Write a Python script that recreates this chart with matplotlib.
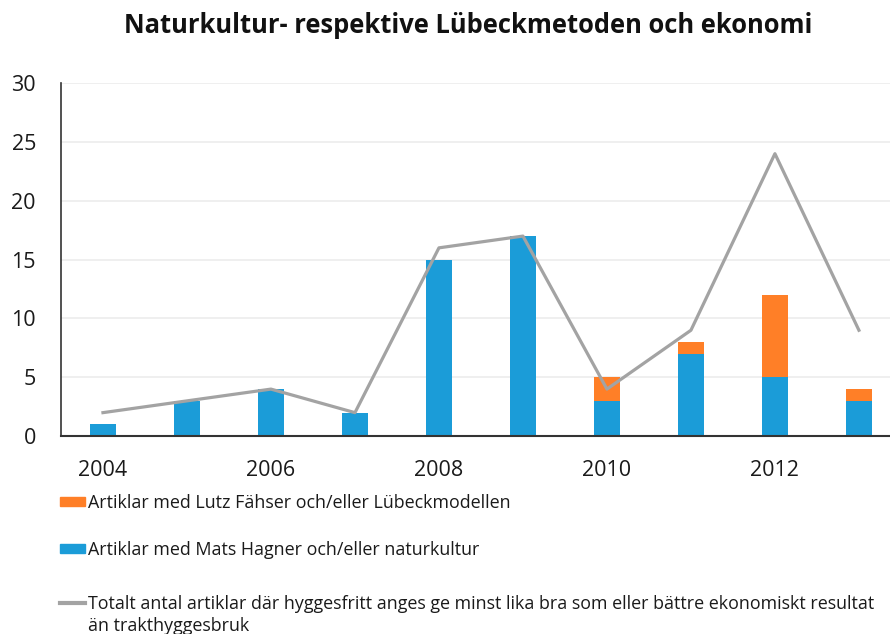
import matplotlib
matplotlib.use("Agg")
import matplotlib.pyplot as plt
from matplotlib.patches import Patch
from matplotlib.lines import Line2D
import numpy as np

plt.rcParams['font.family'] = ['Open Sans', 'DejaVu Sans']

# data
years = [2004, 2005, 2006, 2007, 2008, 2009, 2010, 2011, 2012, 2013]
hagner = [1, 3, 4, 2, 15, 17, 3, 7, 5, 3]       # blue
fahser = [0, 0, 0, 0, 0, 0, 2, 1, 7, 1]         # orange, stacked on blue
totalt = [2, 3, 4, 2, 16, 17, 4, 9, 24, 9]      # grey line

lbl_fahser = "Artiklar med Lutz Fähser och/eller Lübeckmodellen"
lbl_hagner = "Artiklar med Mats Hagner och/eller naturkultur"
lbl_tot1 = "Totalt antal artiklar där hyggesfritt anges ge minst lika bra som eller bättre ekonomiskt resultat"
lbl_tot2 = "än trakthyggesbruk"

blue = "#1b9cd8"
orange = "#ff7f27"
grey = "#a3a3a3"

fig = plt.figure(figsize=(8.9, 6.34), dpi=100)
ax = fig.add_axes([0.0685, 0.312, 0.9315, 0.557])

ax.bar(years, hagner, width=0.31, color=blue, zorder=2)
ax.bar(years, fahser, width=0.31, bottom=hagner, color=orange, zorder=2)
ax.plot(years, totalt, color=grey, lw=2.3, zorder=3)

ax.set_ylim(0, 30)
ax.set_xlim(2003.5, 2013.37)
ax.set_yticks(range(0, 31, 5))
ax.set_xticks(range(2004, 2013, 2))
ax.tick_params(axis='both', length=0, labelsize=15.5, colors='#1a1a1a')
ax.tick_params(axis='x', pad=17)
ax.tick_params(axis='y', pad=18)
ax.grid(axis='y', color='#ececec', lw=1.2, zorder=0)
for s in ['top', 'right']:
    ax.spines[s].set_visible(False)
ax.spines['left'].set_color('#333333')
ax.spines['bottom'].set_color('#333333')
ax.spines['left'].set_linewidth(1.2)
ax.spines['bottom'].set_linewidth(1.5)

fig.text(0.526, 0.96, "Naturkultur- respektive Lübeckmetoden och ekonomi",
         ha='center', va='center', fontsize=18.4, fontweight='bold', color='#111111')

fs = 12.85
entries = [
    (Patch(color=orange), lbl_fahser, 503),
    (Patch(color=blue), lbl_hagner, 550),
    (Line2D([], [], color=grey, lw=3), lbl_tot1, 604),
]
for h, l, y in entries:
    leg = fig.legend(handles=[h], labels=[l], loc='center left',
                     bbox_to_anchor=(60 / 890, 1 - y / 634), frameon=False,
                     fontsize=fs, handlelength=1.4, handleheight=0.45,
                     handletextpad=0.15, borderpad=0, borderaxespad=0)
    for t in leg.get_texts():
        t.set_color('#1a1a1a')
fig.text(88 / 890, 1 - 626 / 634, lbl_tot2, ha='left', va='center',
         fontsize=fs, color='#1a1a1a')

fig.savefig("out.png", dpi=100)
